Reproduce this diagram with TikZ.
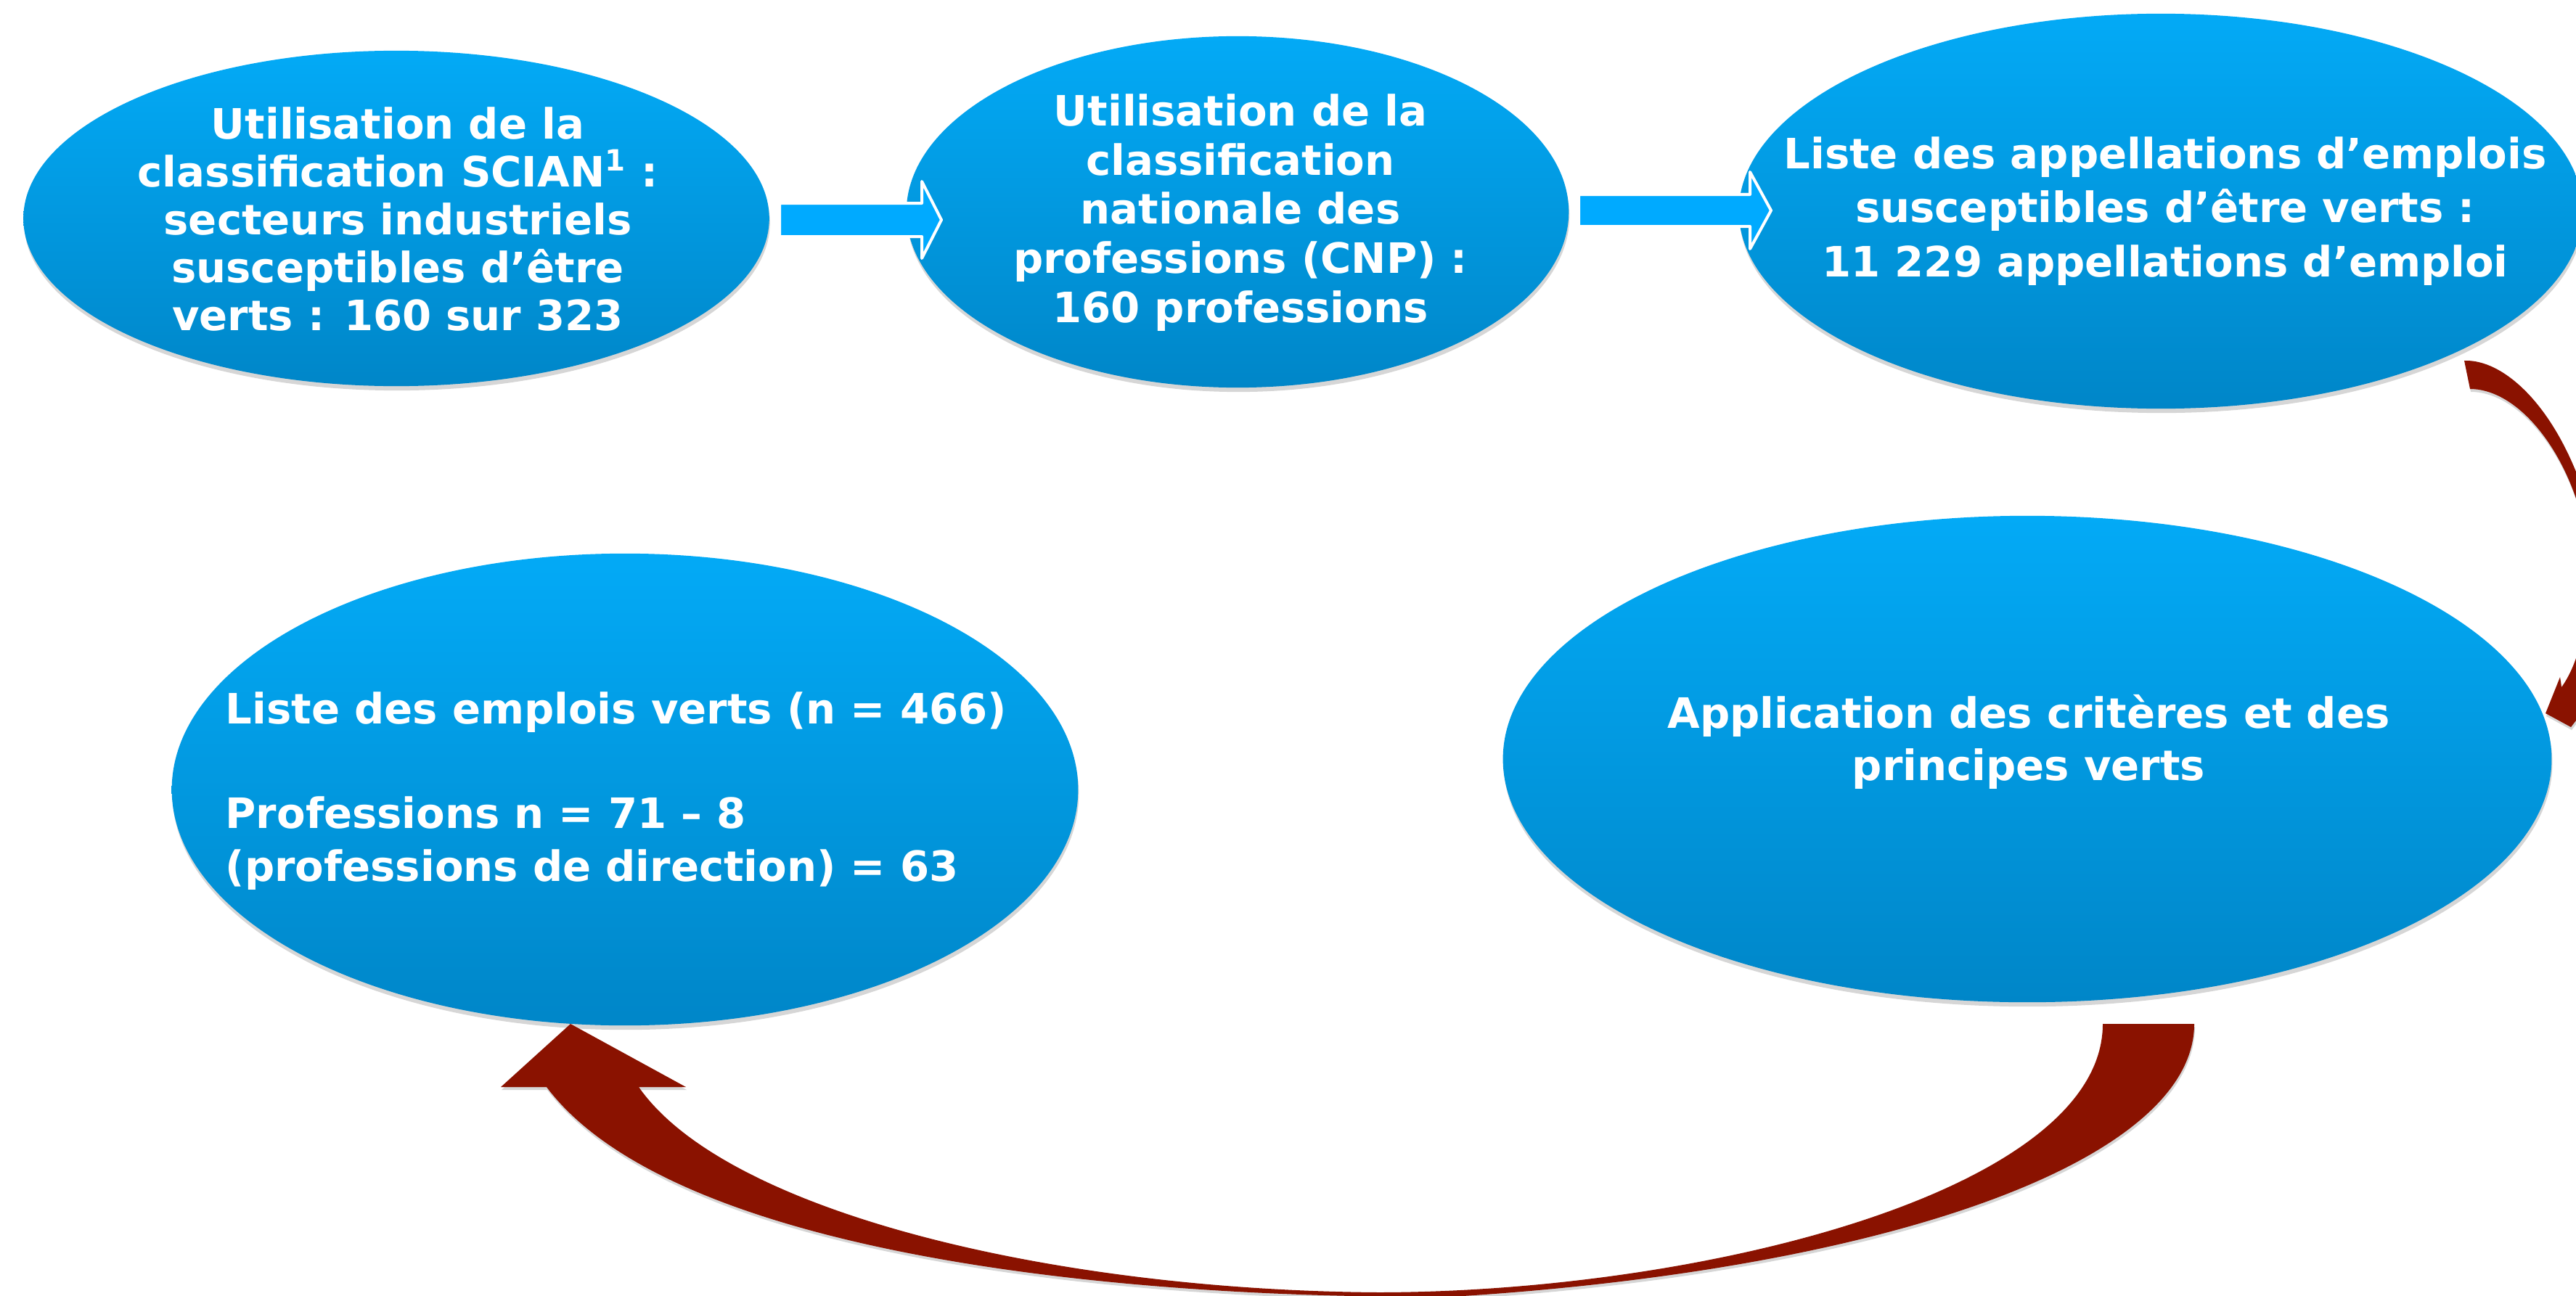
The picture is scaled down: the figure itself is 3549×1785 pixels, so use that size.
\documentclass[tikz,border=0pt]{standalone}
\usepackage{fontspec}
\setmainfont{DejaVu Sans}
\usetikzlibrary{shapes.geometric,shadows}
\definecolor{etop}{RGB}{3,170,246}
\definecolor{ebot}{RGB}{0,134,200}
\definecolor{ablue}{RGB}{0,170,255}
\definecolor{dred}{RGB}{138,18,0}
\begin{document}
\begin{tikzpicture}[x=0.01cm,y=-0.01cm,
  bubble/.style={ellipse, inner sep=0pt, draw=none, top color=etop, bottom color=ebot,
    drop shadow={shadow xshift=0.01cm, shadow yshift=-0.06cm, opacity=0.16, fill=black}},
  btxt/.style={text=white, font=\bfseries\fontsize{16.4}{20.5}\selectfont, align=center, inner sep=0pt},
  flowarrow/.style={fill=ablue, draw=white, line width=0.04cm, line join=round},
  loopar/.style={fill=dred, draw=none,
    drop shadow={shadow xshift=0.01cm, shadow yshift=-0.04cm, opacity=0.16, fill=black}}]
\useasboundingbox (0,0) rectangle (3549,1785);
\clip (0,0) rectangle (3549,1785);
\fill[white] (0,0) rectangle (3549,1785);

% bubbles
\node[bubble, minimum width=10.27cm, minimum height=4.62cm] (e1) at (546,301) {};
\node[bubble, minimum width=9.12cm, minimum height=4.84cm] (e2) at (1705,292) {};
\node[bubble, minimum width=11.62cm, minimum height=5.44cm] (e3) at (2977,291) {};
\node[bubble, minimum width=12.48cm, minimum height=6.50cm] (e4) at (861,1088) {};
\node[bubble, minimum width=14.44cm, minimum height=6.70cm] (e5) at (2793,1046) {};

% straight block arrows
\path[flowarrow] (1074,280) -- (1270,280) -- (1270,250) -- (1297,303) -- (1270,356) -- (1270,326) -- (1074,326) -- cycle;
\path[flowarrow] (2175,268) -- (2411,268) -- (2411,237) -- (2440,290) -- (2411,343) -- (2411,312) -- (2175,312) -- cycle;

% curved arrow from e3 to e5
\path[loopar] (3395,497) .. controls (3450,495) and (3520,560) .. (3560,680)
  .. controls (3600,800) and (3590,920) .. (3555,985)
  -- (3542,1002) -- (3507,983) -- (3527,933) -- (3529,947)
  .. controls (3570,890) and (3575,770) .. (3550,690)
  .. controls (3520,600) and (3460,536) .. (3403,536) -- cycle;

% curved arrow from e5 to e4
\path[loopar] (3023,1411) .. controls (3023,1600) and (2600,1750) .. (2000,1787)
  .. controls (1500,1790) and (920,1720) .. (753,1498)
  -- (690,1498) -- (786,1411) -- (945,1498) -- (880,1498)
  .. controls (1000,1670) and (1450,1778) .. (1900,1781)
  .. controls (2350,1780) and (2897,1640) .. (2897,1411) -- cycle;

% texts
\node[btxt, font=\bfseries\fontsize{16.4}{18.8}\selectfont] (t1) at (548,302) {Utilisation de la\\classification SCIAN\textsuperscript{1} :\\secteurs industriels\\susceptibles d’être\\verts : 160 sur 323};
\node[btxt, font=\bfseries\fontsize{16.4}{19.3}\selectfont] (t2) at (1709,293) {Utilisation de la\\classification\\nationale des\\professions (CNP) :\\160 professions};
\node[btxt, font=\bfseries\fontsize{16.4}{21.3}\selectfont] (t3) at (2983,291) {Liste des appellations d’emplois\\susceptibles d’être verts :\\11 229 appellations d’emploi};
\node[btxt, align=left, anchor=west] (t4) at (310,1090) {Liste des emplois verts (n = 466)\\[20.5pt]Professions n = 71 – 8\\(professions de direction) = 63};
\node[btxt] (t5) at (2795,1022) {Application des critères et des\\principes verts};
\end{tikzpicture}
\end{document}
